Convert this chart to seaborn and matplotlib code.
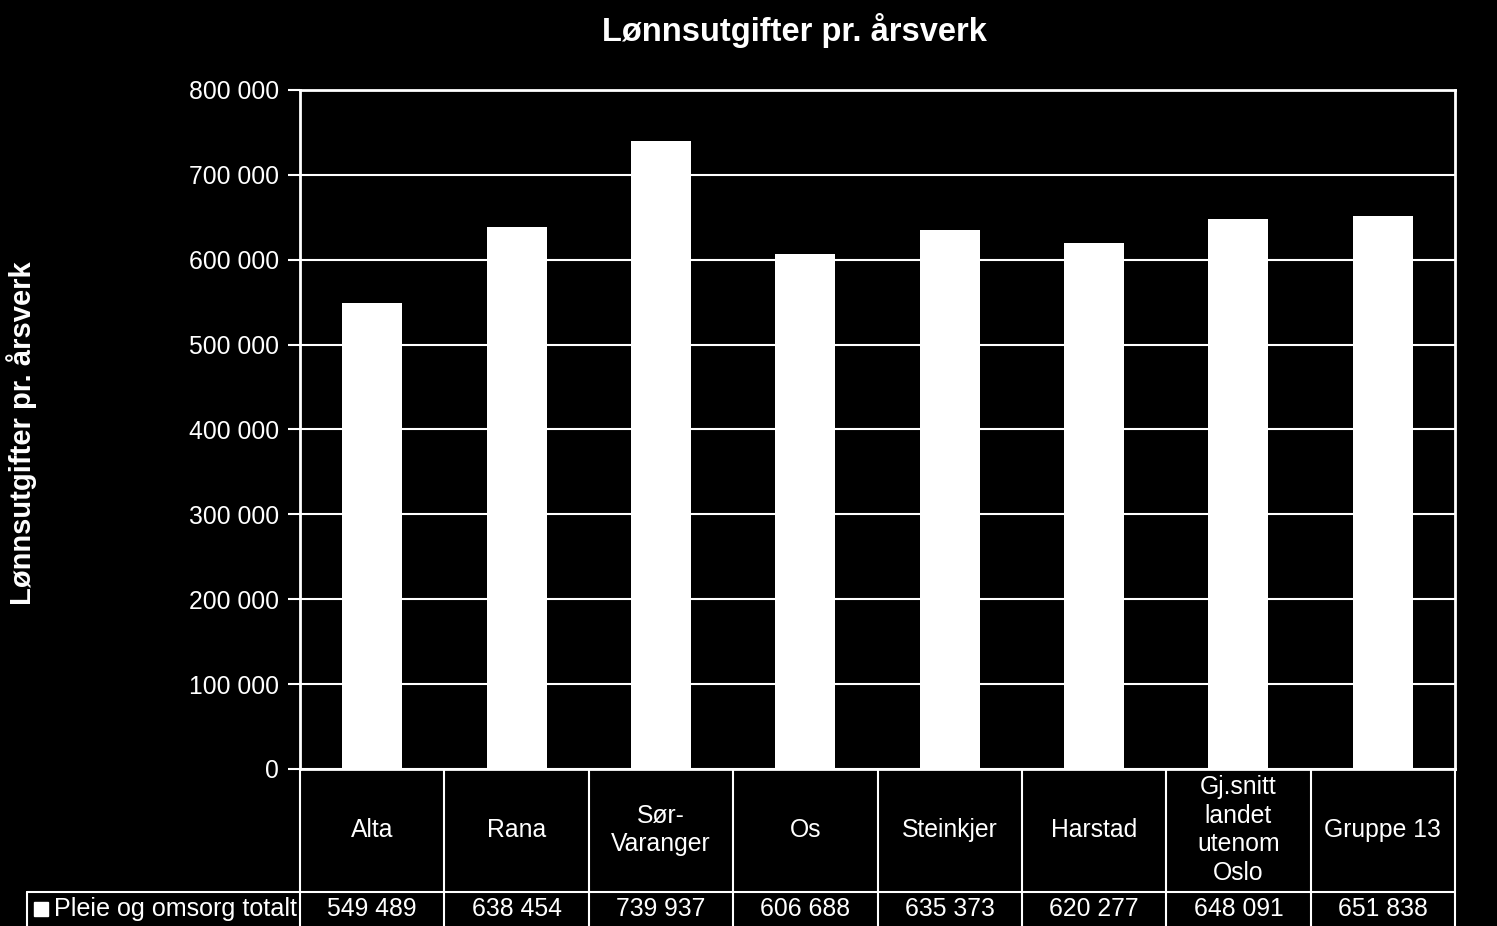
import matplotlib
matplotlib.use("Agg")
import matplotlib.pyplot as plt
from matplotlib.lines import Line2D
import seaborn as sns
import pandas as pd

# ---- data ----
categories = ["Alta", "Rana", "Sør-\nVaranger", "Os", "Steinkjer", "Harstad",
              "Gj.snitt\nlandet\nutenom\nOslo", "Gruppe 13"]
values = [549489, 638454, 739937, 606688, 635373, 620277, 648091, 651838]
value_labels = ["549 489", "638 454", "739 937", "606 688", "635 373",
                "620 277", "648 091", "651 838"]
series_name = "Pleie og omsorg totalt"
yticks = [0, 100000, 200000, 300000, 400000, 500000, 600000, 700000, 800000]
ytick_labels = ["0", "100 000", "200 000", "300 000", "400 000", "500 000",
                "600 000", "700 000", "800 000"]
title = "Lønnsutgifter pr. årsverk"

sns.set_theme(style="dark")
plt.rcParams["font.family"] = ["Liberation Sans", "DejaVu Sans"]
plt.rcParams["text.color"] = "white"

W, H = 1497, 926
fig = plt.figure(figsize=(W / 100, H / 100), dpi=100, facecolor="black")
ax = fig.add_axes([300 / W, (H - 769) / H, 1155 / W, 679 / H])
ax.set_facecolor("black")

df = pd.DataFrame({"cat": categories, "val": values})
sns.barplot(data=df, x="cat", y="val", color="white", saturation=1,
            width=0.415, ax=ax, edgecolor="none")

ax.set_xlim(-0.5, len(categories) - 0.5)
ax.set_ylim(0, 800000)
ax.set_yticks(yticks)
ax.set_yticklabels(ytick_labels, fontsize=17.8, color="white")
ax.set_xticks([])
ax.set_xlabel("")
ax.set_ylabel("")
ax.tick_params(axis="y", direction="out", length=9, width=1.5, color="white",
               pad=6, left=True)
ax.grid(axis="y", color="white", linewidth=1.5)
ax.set_axisbelow(True)
for side in ["left", "top", "right", "bottom"]:
    ax.spines[side].set_visible(True)
    ax.spines[side].set_color("white")
    ax.spines[side].set_linewidth(2)

# title and y label
fig.text(794 / W, 1 - 31 / H, title, ha="center", va="center",
         fontsize=23.5, fontweight="bold", color="white")
fig.text(22 / W, 1 - 433 / H, title, ha="center", va="center", rotation=90,
         fontsize=21, fontweight="bold", color="white")

# ---- data table below the axis ----
tr = ax.get_xaxis_transform()
y_bot = -0.3
n = len(categories)
for i in range(n + 1):
    ax.add_line(Line2D([i - 0.5, i - 0.5], [0, y_bot], transform=tr,
                       color="white", lw=1.5, clip_on=False))
fig.add_artist(Line2D([27 / W, 1455 / W], [(H - 892) / H] * 2,
                      transform=fig.transFigure, color="white", lw=1.5))
fig.add_artist(Line2D([27 / W, 27 / W], [(H - 892) / H, 0],
                      transform=fig.transFigure, color="white", lw=1.5))

y_cat = (769 - 830) / 679
y_val = (769 - 909) / 679
for i, (c, v) in enumerate(zip(categories, value_labels)):
    ax.text(i, y_cat, c, transform=tr, ha="center", va="center",
            fontsize=17.8, color="white", linespacing=1.26, clip_on=False)
    ax.text(i, y_val, v, transform=tr, ha="center", va="center",
            fontsize=17.8, color="white", clip_on=False)

fig.add_artist(Line2D([40.5 / W], [(H - 908.5) / H], marker="s",
                      markersize=9.4, color="white", linestyle="none",
                      transform=fig.transFigure))
fig.text(54 / W, (H - 909) / H, series_name, ha="left", va="center",
         fontsize=18.1, color="white")

fig.savefig("out.png", dpi=100, facecolor="black")
